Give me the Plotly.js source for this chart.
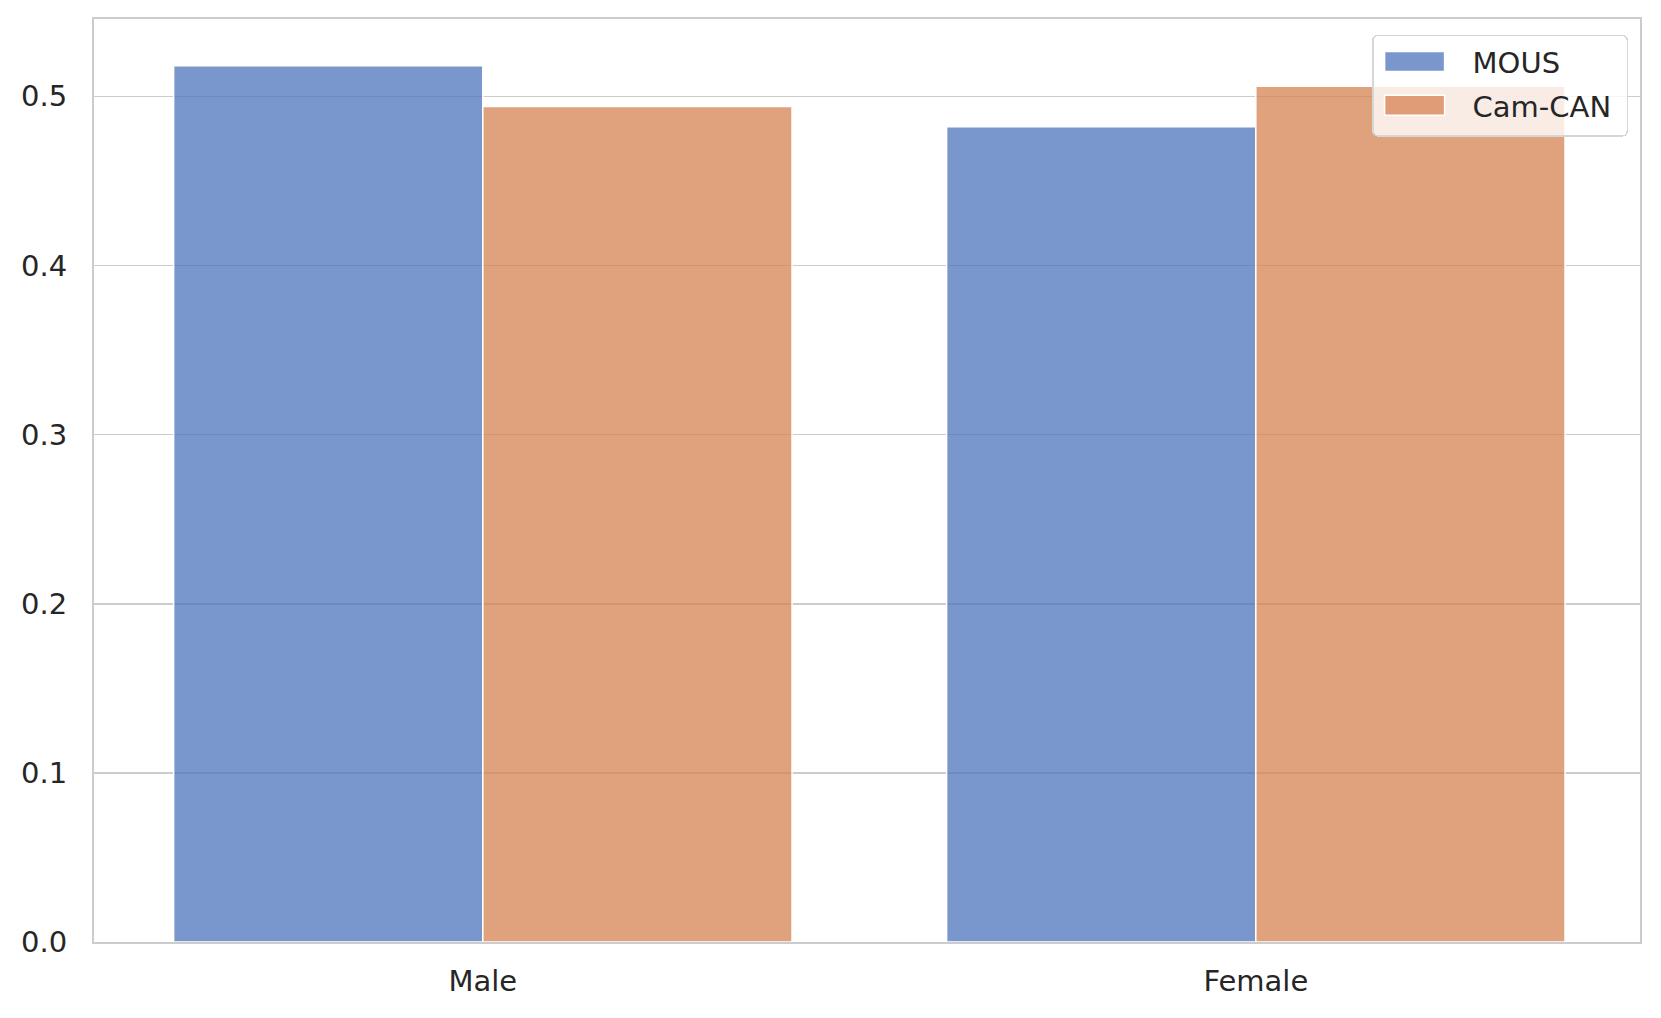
<!DOCTYPE html>
<html>
<head>
<meta charset="utf-8">
<script src="https://cdn.plot.ly/plotly-3.0.1.min.js"></script>
<style>html,body{margin:0;padding:0;background:#fff;}#chart{width:1661px;height:1018px;}</style>
</head>
<body>
<div id="chart"></div>
<script>
const categories = ["Male", "Female"];
const seriesNames = ["MOUS", "Cam-CAN"];
const mousValues = [0.518, 0.482];
const camcanValues = [0.494, 0.506];
const yTickValues = [0.0, 0.1, 0.2, 0.3, 0.4, 0.5];
const yTickLabels = ["0.0", "0.1", "0.2", "0.3", "0.4", "0.5"];

const font = {family: "DejaVu Sans, sans-serif", size: 29, color: "#262626"};

const traces = [
  {
    type: "bar", name: seriesNames[0], x: categories, y: mousValues, legendgroup: "g1",
    marker: {color: "rgba(76,116,187,0.75)", line: {color: "#ffffff", width: 1.5}}
  },
  {
    type: "bar", name: seriesNames[1], x: categories, y: camcanValues, legendgroup: "g2",
    marker: {color: "rgba(214,130,82,0.75)", line: {color: "#ffffff", width: 1.5}}
  }
];

const layout = {
  width: 1661, height: 1018,
  margin: {l: 94, r: 21, t: 19, b: 76},
  paper_bgcolor: "#ffffff", plot_bgcolor: "#ffffff",
  font: font,
  barmode: "group", bargap: 0.2, bargroupgap: 0,
  showlegend: true,
  legend: {
    x: 0.991, xanchor: "right", y: 0.983, yanchor: "top",
    bgcolor: "rgba(255,255,255,0.8)", bordercolor: "#d6d6d6", borderwidth: 1.5,
    font: {family: "DejaVu Sans, sans-serif", size: 29, color: "#262626"},
    itemwidth: 89, tracegroupgap: 3
  },
  xaxis: {
    type: "category", range: [-0.503, 1.497],
    showgrid: false, zeroline: false,
    showline: true, linecolor: "#cccccc", linewidth: 2, mirror: true,
    ticks: "", ticklabelstandoff: 12,
    tickfont: font
  },
  yaxis: {
    range: [0, 0.5457],
    tickvals: yTickValues, ticktext: yTickLabels,
    showgrid: true, gridcolor: "#cccccc", gridwidth: 1.6,
    zeroline: false,
    showline: true, linecolor: "#cccccc", linewidth: 2, mirror: true,
    ticks: "", ticklabelstandoff: 19,
    tickfont: font
  }
};

Plotly.newPlot("chart", traces, layout, {displayModeBar: false, staticPlot: true}).then(function (gd) {
  // Style legend swatches as wide patches (matplotlib-like), widen box slightly
  const legend = gd.querySelector(".legend");
  if (!legend) return;
  legend.querySelectorAll(".legendpoints path").forEach(function (p) {
    p.setAttribute("d", "M-38.5,-10H21.5V10H-38.5Z");
  });
  const extra = 10;
  const bg = legend.querySelector("rect.bg");
  if (bg) {
    const w = parseFloat(bg.getAttribute("width"));
    const h = parseFloat(bg.getAttribute("height"));
    bg.setAttribute("width", w + extra);
    bg.setAttribute("height", h + 4);
    bg.setAttribute("rx", 5);
    bg.setAttribute("ry", 5);
  }
  const tr = legend.getAttribute("transform") || "";
  const m = tr.match(/translate\(([-\d.]+)[ ,]+([-\d.]+)\)/);
  if (m) {
    legend.setAttribute("transform", "translate(" + (parseFloat(m[1]) - extra + 2) + "," + m[2] + ")");
  }
});
</script>
</body>
</html>
